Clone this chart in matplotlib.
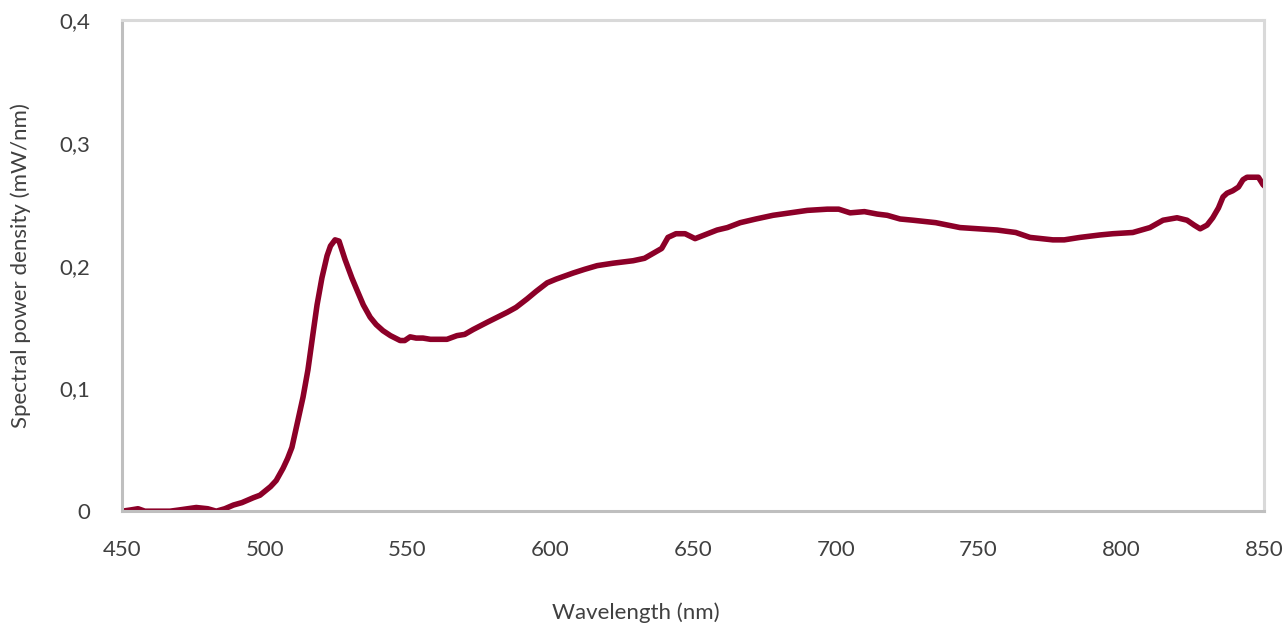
import matplotlib
matplotlib.use("Agg")
import matplotlib.pyplot as plt
from matplotlib.ticker import FuncFormatter

# spectrum
golflengte = [450, 453, 455.6, 458, 462, 466.8, 470, 476, 480, 483, 486, 489, 492, 496,
              498.3, 502, 504, 506.4, 508, 509.5, 511.6, 513.4, 515.1, 516.9, 518.3, 520,
              521.8, 523, 524.6, 526, 528.1, 530.5, 532.3, 534.5, 536.9, 539, 541.4, 544,
              547.4, 549, 550.9, 553, 555.4, 558, 561.4, 563.8, 567.3, 570, 573, 578,
              584.9, 588, 591.9, 595, 598.9, 602, 608, 612, 616.4, 622, 629, 633, 636,
              639, 641.2, 644, 647.2, 650.7, 654, 658.4, 662, 666.5, 672, 678, 684, 690,
              697, 701, 705, 710, 714.5, 718, 722.5, 727, 735, 743.5, 750, 756.5, 763,
              768, 772, 776, 780, 785.5, 792.5, 797, 804, 810, 814.6, 819.5, 823, 825.5,
              827.6, 830, 832, 834, 835.6, 837, 839, 841, 842.6, 844, 846, 848, 849.6, 850.5]
vermogen = [0.000, 0.001, 0.002, 0.000, 0.000, 0.000, 0.001, 0.003, 0.002, 0.000, 0.002, 0.005,
            0.007, 0.011, 0.013, 0.020, 0.025, 0.035, 0.043, 0.052, 0.074, 0.093, 0.115, 0.145,
            0.168, 0.190, 0.208, 0.216, 0.221, 0.220, 0.205, 0.190, 0.180, 0.168, 0.158, 0.152,
            0.147, 0.143, 0.139, 0.139, 0.142, 0.141, 0.141, 0.140, 0.140, 0.140, 0.143, 0.144,
            0.148, 0.154, 0.162, 0.166, 0.173, 0.179, 0.186, 0.189, 0.194, 0.197, 0.200, 0.202,
            0.204, 0.206, 0.210, 0.214, 0.223, 0.226, 0.226, 0.222, 0.225, 0.229, 0.231, 0.235,
            0.238, 0.241, 0.243, 0.245, 0.246, 0.246, 0.243, 0.244, 0.242, 0.241, 0.238, 0.237,
            0.235, 0.231, 0.230, 0.229, 0.227, 0.223, 0.222, 0.221, 0.221, 0.223, 0.225, 0.226,
            0.227, 0.231, 0.237, 0.239, 0.237, 0.233, 0.230, 0.233, 0.239, 0.247, 0.256, 0.259,
            0.261, 0.264, 0.270, 0.272, 0.272, 0.272, 0.266, 0.264]

plt.rcParams['font.family'] = ['Lato', 'DejaVu Sans']

fig = plt.figure(figsize=(12.86, 6.28), dpi=100)
ax = fig.add_axes([0.0949, 0.186, 0.8881, 0.782])

ax.plot(golflengte, vermogen, color='#8c0028', lw=4, solid_capstyle='round',
        solid_joinstyle='round')

ax.set_xlim(450, 850)
ax.set_ylim(0, 0.4)
ax.set_xticks(range(450, 851, 50))
ax.set_yticks([0, 0.1, 0.2, 0.3, 0.4])
ax.yaxis.set_major_formatter(FuncFormatter(lambda v, p: '0' if v == 0 else f'{v:.1f}'.replace('.', ',')))

ax.tick_params(length=0, labelsize=16, colors='#404040')
ax.tick_params(axis='y', pad=23)
ax.tick_params(axis='x', pad=21)

for s in ['left', 'bottom']:
    ax.spines[s].set_color('#bfbfbf')
    ax.spines[s].set_linewidth(2.2)
for s in ['top', 'right']:
    ax.spines[s].set_color('#d9d9d9')
    ax.spines[s].set_linewidth(2.2)

ax.set_xlabel('Wavelength (nm)', fontsize=16, color='#404040')
ax.xaxis.set_label_coords(0.45, -0.185)
ax.set_ylabel('Spectral power density (mW/nm)', fontsize=16, color='#404040', labelpad=20)

fig.savefig('out.png', dpi=100)
